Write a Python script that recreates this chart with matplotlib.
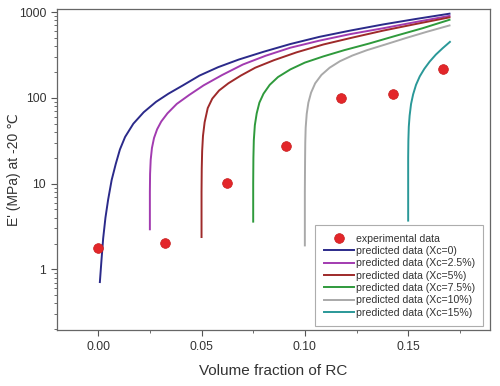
import numpy as np
import matplotlib
matplotlib.use("Agg")
from matplotlib import pyplot as plt
from matplotlib import ticker

plt.rcParams['font.family'] = ['Liberation Sans', 'DejaVu Sans']

# experimental points
exp_x = [0.0, 0.0323, 0.0621, 0.0908, 0.1175, 0.1428, 0.1667]
exp_y = [1.76, 2.01, 10.2, 27.8, 98.9, 111, 216]

# predicted curves
blue_x = [0.0008, 0.0016, 0.0024, 0.0035, 0.0048, 0.0065, 0.0085, 0.0105, 0.013,
          0.017, 0.022, 0.028, 0.034, 0.041, 0.049, 0.058, 0.068, 0.080, 0.093,
          0.107, 0.122, 0.138, 0.154, 0.170]
blue_y = [0.71, 1.3, 2.3, 4.0, 6.5, 11, 17, 25, 35, 50, 68, 90, 112, 140, 182, 228,
          280, 345, 425, 515, 610, 720, 835, 960]

purple_x = [0.0250, 0.0250, 0.0251, 0.0254, 0.0260, 0.0270, 0.0285, 0.0305, 0.0335,
            0.038, 0.044, 0.051, 0.060, 0.070, 0.081, 0.093, 0.107, 0.122, 0.138,
            0.154, 0.170]
purple_y = [2.93, 8, 13, 19, 26, 34, 43, 53, 66, 85, 108, 140, 185, 245, 310, 385,
            465, 555, 650, 770, 905]

red_x = [0.0500, 0.0500, 0.0501, 0.0503, 0.0507, 0.0515, 0.0530, 0.0552, 0.0585,
         0.063, 0.069, 0.076, 0.085, 0.096, 0.109, 0.123, 0.138, 0.154, 0.170]
red_y = [2.38, 8, 15, 24, 36, 52, 76, 98, 122, 148, 182, 225, 275, 340, 420, 505,
         610, 730, 870]

green_x = [0.0750, 0.0750, 0.0751, 0.0753, 0.0758, 0.0767, 0.0780, 0.0800, 0.0830,
           0.0870, 0.093, 0.100, 0.109, 0.119, 0.131, 0.144, 0.157, 0.170]
green_y = [3.6, 10, 20, 32, 48, 66, 88, 112, 142, 175, 215, 258, 305, 360, 430, 530,
           650, 815]

gray_x = [0.1000, 0.1000, 0.1001, 0.1002, 0.1004, 0.1009, 0.1017, 0.1030, 0.1050,
          0.1080, 0.112, 0.117, 0.123, 0.130, 0.139, 0.149, 0.159, 0.170]
gray_y = [1.9, 8, 18, 30, 45, 65, 88, 115, 148, 185, 225, 268, 312, 360, 420, 500,
          590, 700]

teal_x = [0.1500, 0.1500, 0.1500, 0.1501, 0.1503, 0.1507, 0.1514, 0.1524, 0.1538,
          0.1556, 0.1578, 0.1604, 0.1634, 0.1667, 0.1702]
teal_y = [3.7, 10, 20, 32, 46, 62, 85, 110, 142, 178, 218, 265, 320, 380, 450]

curves = [
    (blue_x, blue_y, "#2B2A8A", "predicted data (Xc=0)"),
    (purple_x, purple_y, "#A23BB0", "predicted data (Xc=2.5%)"),
    (red_x, red_y, "#9E2A2A", "predicted data (Xc=5%)"),
    (green_x, green_y, "#2F9A3C", "predicted data (Xc=7.5%)"),
    (gray_x, gray_y, "#A9A9A9", "predicted data (Xc=10%)"),
    (teal_x, teal_y, "#2A9898", "predicted data (Xc=15%)"),
]

fig = plt.figure(figsize=(5.0, 3.86), dpi=100)
ax = fig.add_axes([0.1146, 0.1451, 0.8654, 0.8308])

ax.plot(exp_x, exp_y, 'o', color="#E3262A", markersize=7, markeredgecolor="#C81E1E",
        markeredgewidth=0.5, label="experimental data", zorder=5)
for cx, cy, col, lab in curves:
    ax.plot(cx, cy, '-', color=col, lw=1.4, label=lab, solid_joinstyle='round')

ax.set_yscale('log')
ax.set_xlim(-0.0198, 0.1896)
ax.set_ylim(0.196, 1080)

ax.set_xticks([0.0, 0.05, 0.10, 0.15])
ax.set_xticklabels(["0.00", "0.05", "0.10", "0.15"])
ax.xaxis.set_minor_locator(ticker.FixedLocator([0.025, 0.075, 0.125, 0.175]))
ax.set_yticks([1, 10, 100, 1000])
ax.set_yticklabels(["1", "10", "100", "1000"])
ax.yaxis.set_minor_locator(ticker.LogLocator(base=10, subs=np.arange(2, 10)))
ax.yaxis.set_minor_formatter(ticker.NullFormatter())

ax.tick_params(which='major', direction='out', length=4, width=0.8, color="#555555",
               labelsize=8.8, labelcolor="#333333", pad=4)
ax.tick_params(which='minor', direction='out', length=2, width=0.6, color="#555555")
for s in ax.spines.values():
    s.set_color("#666666")
    s.set_linewidth(0.9)

ax.set_xlabel("Volume fraction of RC", fontsize=11, color="#333333", labelpad=8)
ax.set_ylabel("E' (MPa) at -20 \u2103", fontsize=10, color="#333333",
              family=['Liberation Sans', 'DejaVu Sans'])
ax.yaxis.set_label_coords(-0.100, 0.5)
ax.yaxis.label.set_va('center')

leg = ax.legend(loc='lower right', bbox_to_anchor=(0.984, 0.012), borderaxespad=0,
                fontsize=7.6, frameon=True, fancybox=False, edgecolor="#999999",
                handlelength=2.9, handletextpad=0.1, labelspacing=0.22,
                borderpad=0.8, markerscale=1.0)
leg.get_frame().set_linewidth(0.8)
for t in leg.get_texts():
    t.set_color("#333333")

fig.savefig("out.png", dpi=100)
